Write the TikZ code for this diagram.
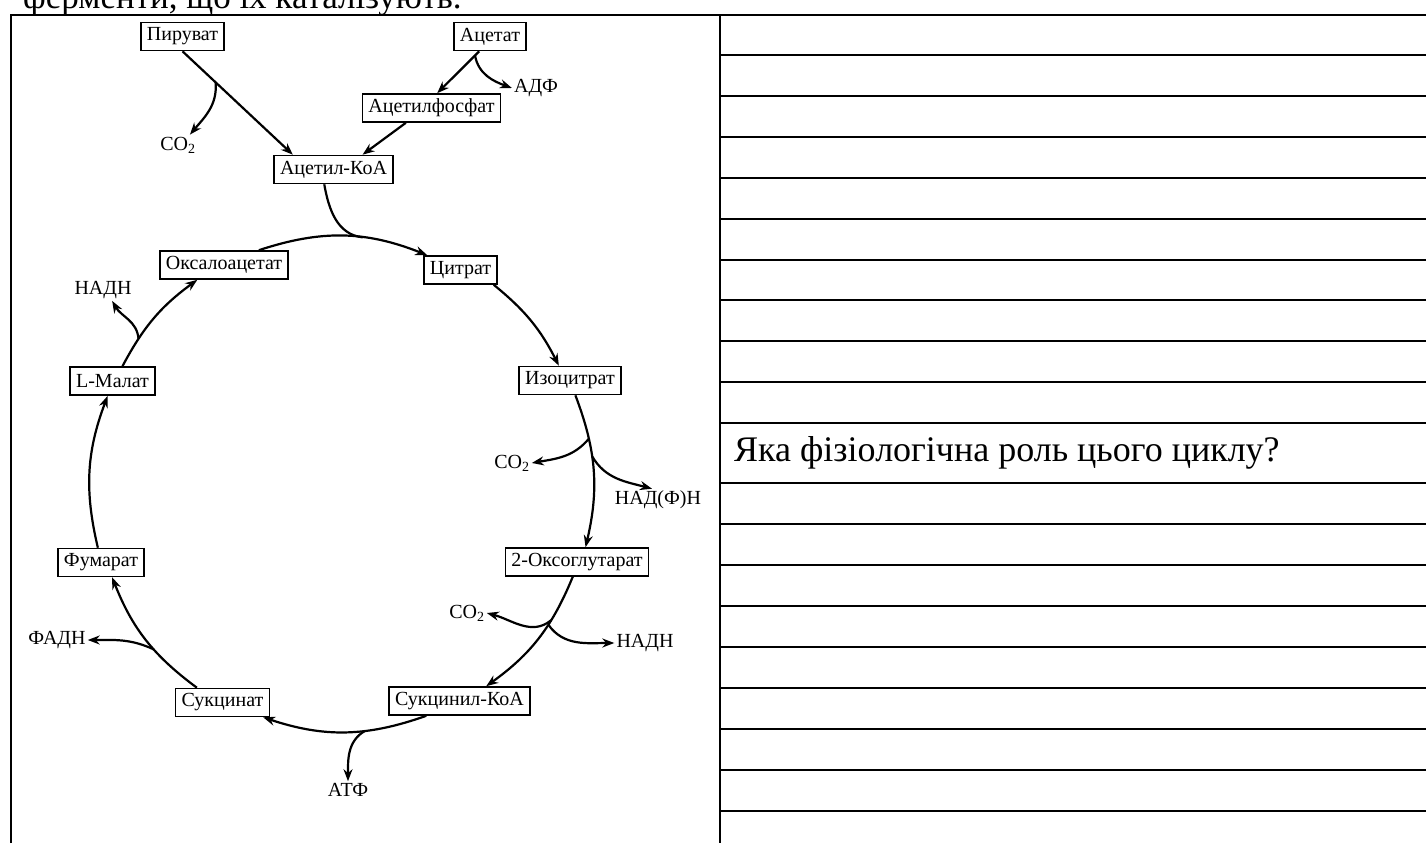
\documentclass[tikz,border=0pt]{standalone}
\usepackage{fontspec}
\setmainfont{Liberation Serif}
\usetikzlibrary{arrows.meta}

\tikzset{
  molbox/.style={draw,line width=1.6pt,inner xsep=6pt,inner ysep=0pt,minimum height=28pt,font=\fontsize{20}{22}\selectfont},
  lbl/.style={inner sep=2pt,font=\fontsize{20}{22}\selectfont},
  react/.style={line width=2.2pt,-{Stealth[length=12pt,width=9pt]}},
  tabline/.style={line width=2.9pt},
}

\begin{document}
\begin{tikzpicture}[x=1pt,y=1pt]
\useasboundingbox (0,0) rectangle (1426,-843);
% text above the table, cut by the page edge
\begin{scope}
\clip (0,0) rectangle (1426,-843);
\node[anchor=base west,inner sep=0pt,font=\fontsize{35}{40}\selectfont] (head) at (23,-9) {ферменти, що їх каталізують.};
\end{scope}
% table
\draw[tabline] (11,-843) -- (11,-15) -- (1426,-15);
\draw[tabline] (720,-15) -- (720,-843);
\foreach \y in {55,96,137,178,219,260,300,341,382,423,483,524,565,606,647,688,729,770,811}
  \draw[tabline] (720,-\y) -- (1426,-\y);
\node[anchor=west,inner sep=0pt,font=\fontsize{36}{40}\selectfont] (quest) at (734,-453) {Яка фізіологічна роль цього циклу?};

% entry into the cycle
\node[molbox] (pyr) at (182.5,-36.5) {Пируват};
\node[molbox] (acet) at (490,-36.5) {Ацетат};
\node[molbox] (acp) at (431.5,-108) {Ацетилфосфат};
\node[molbox] (accoa) at (333.5,-169.5) {Ацетил-КоА};
\node[lbl] (co2a) at (178,-145) {CO\textsubscript{2}};
\node[lbl] (adp) at (536,-88) {АДФ};

% the cycle
\node[molbox] (oxa) at (224,-265) {Оксалоацетат};
\node[molbox] (cit) at (460.5,-270) {Цитрат};
\node[molbox] (iso) at (570,-380.5) {Изоцитрат};
\node[molbox] (oxo) at (577,-562) {2-Оксоглутарат};
\node[molbox] (sca) at (459.5,-701) {Сукцинил-КоА};
\node[molbox] (suc) at (222.5,-702.5) {Сукцинат};
\node[molbox] (fum) at (101,-562.5) {Фумарат};
\node[molbox] (mal) at (112.5,-381) {L-Малат};

\node[lbl] (nadha) at (103,-290) {НАДН};
\node[lbl] (co2b) at (512,-463) {CO\textsubscript{2}};
\node[lbl] (nadph) at (658,-500) {НАД(Ф)Н};
\node[lbl] (co2c) at (467,-613) {CO\textsubscript{2}};
\node[lbl] (nadhb) at (645,-643) {НАДН};
\node[lbl] (atp) at (348,-790) {АТФ};
\node[lbl] (fadh) at (57,-640) {ФАДН};

\draw[react] (pyr.south) -- coordinate[pos=0.3] (pb) (accoa.160);
\draw[react] (pb) to[out=-85,in=50] (co2a.41);
\draw[react] (acet.234) -- coordinate[pos=0.1] (ab) (acp.69);
\draw[react] (ab) to[out=-80,in=160] (adp.west);
\draw[react] (acp.210) -- (accoa.27);

\draw[react] (oxa.23) to[bend left=20] coordinate[pos=0.62] (jn) (cit.156);
\draw[line width=2.2pt] (accoa.238) to[out=-80,in=174] (jn);
\draw[react] (cit.336) to[bend left=12] (iso.127);
\draw[react] (iso.290) to[bend left=17] coordinate[pos=0.28] (ib1) coordinate[pos=0.4] (ib2) (oxo.60);
\draw[react] (oxo.254) to[bend left=16] coordinate[pos=0.33] (ob1) coordinate[pos=0.37] (ob2) (sca.29);
\draw[react] (sca.204) to[bend left=19] coordinate[pos=0.37] (sb) (suc.340);
\draw[react] (suc.150) to[bend left=16] coordinate[pos=0.4] (fb) (fum.307);
\draw[react] (fum.102) to[bend left=17] (mal.252);
\draw[react] (mal.56) to[bend left=13] coordinate[pos=0.26] (mb) (oxa.209);

% side products
\draw[react] (ib1) to[out=-130,in=10] (co2b.east);
\draw[react] (ib2) to[out=-60,in=165] (nadph.118);
\draw[react] (ob1) to[out=-140,in=-15] (co2c.east);
\draw[react] (ob2) to[out=-55,in=180] (nadhb.west);
\draw[react] (sb) to[out=-150,in=90] (atp.north);
\draw[react] (fb) to[out=155,in=0] (fadh.east);
\draw[react] (mb) to[out=95,in=-60] (nadha.-50);
\end{tikzpicture}
\end{document}
